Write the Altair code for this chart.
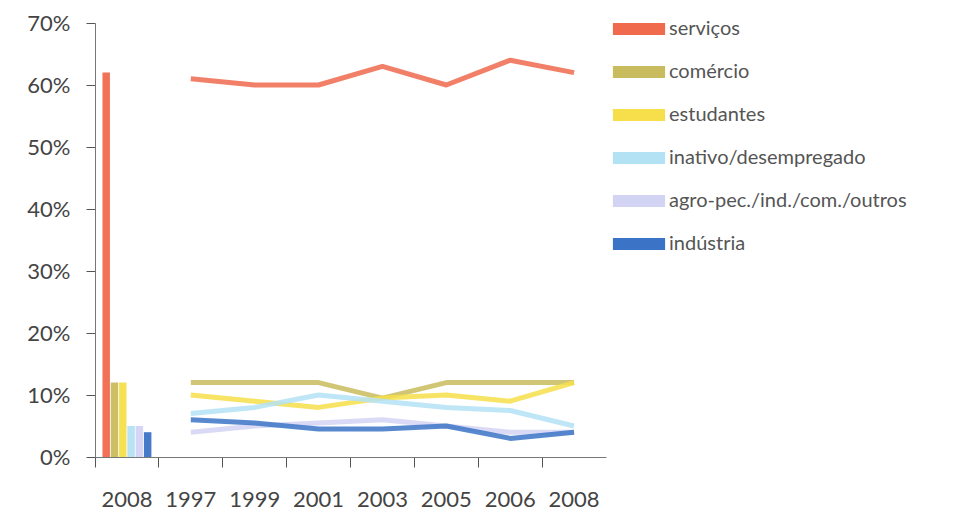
import altair as alt
import pandas as pd

categories = ["serviços", "comércio", "estudantes", "inativo/desempregado",
              "agro-pec./ind./com./outros", "indústria"]
colors = ["#f06a4e", "#c9bc5e", "#f6df4a", "#b4e2f5", "#d3d3f4", "#3b74c6"]

bar_group = "2008 "
bar_values = [62, 12, 12, 5, 5, 4]

years = ["1997", "1999", "2001", "2003", "2005", "2006", "2008"]
servicos = [61, 60, 60, 63, 60, 64, 62]
comercio = [12, 12, 12, 9.5, 12, 12, 12]
estudantes = [10, 9, 8, 9.5, 10, 9, 12]
inativo = [7, 8, 10, 9, 8, 7.5, 5]
agro = [4, 5, 5.5, 6, 5, 4, 4]
industria = [6, 5.5, 4.5, 4.5, 5, 3, 4]

x_order = [bar_group] + years
y_ticks = [0, 10, 20, 30, 40, 50, 60, 70]

bars = pd.DataFrame({"pos": [bar_group] * len(categories),
                     "cat": categories, "v": bar_values})
series = [servicos, comercio, estudantes, inativo, agro, industria]
lines = pd.DataFrame([
    {"pos": y, "cat": c, "v": v}
    for c, vals in zip(categories, series)
    for y, v in zip(years, vals)
])

FONT = "Lato"
xscale = alt.Scale(domain=x_order, paddingInner=0, paddingOuter=0)
yscale = alt.Scale(domain=[0, 70], nice=False)
cscale = alt.Scale(domain=categories, range=colors)

xaxis = alt.Axis(title=None, labelExpr="trim(datum.label)", labelFontSize=22,
                 labelFont=FONT, labelColor="#444", labelPadding=22,
                 bandPosition=0, tickSize=10, tickColor="#555", domainColor="#777",
                 labelAngle=0)
yaxis = alt.Axis(title=None, values=y_ticks, labelExpr="datum.value + '%'",
                 labelFontSize=22, labelFont=FONT, labelColor="#444",
                 grid=False, tickSize=9, tickColor="#555", domainColor="#777",
                 labelPadding=16, minExtent=87, maxExtent=87)

legend = alt.Legend(title=None, orient="none", legendX=526, legendY=-12,
                    symbolType="M-1.45,-0.34H1.45V0.34H-1.45Z", symbolSize=1296,
                    symbolStrokeWidth=0, symbolOpacity=1,
                    labelFont=FONT, labelFontSize=20, labelColor="#555",
                    labelOffset=12, rowPadding=15, labelLimit=400)

bar_layer = alt.Chart(bars).mark_bar(opacity=0.95).encode(
    x=alt.X("pos:N", sort=x_order, scale=xscale, axis=xaxis),
    xOffset=alt.XOffset("cat:N", sort=categories,
                        scale=alt.Scale(domain=categories, paddingInner=0.1,
                                        paddingOuter=0.9)),
    y=alt.Y("v:Q", scale=yscale, axis=yaxis),
    color=alt.Color("cat:N", scale=cscale, sort=categories, legend=legend),
)

line_layer = alt.Chart(lines).mark_line(strokeWidth=5, opacity=0.85,
                                        strokeJoin="round").encode(
    x=alt.X("pos:N", sort=x_order, scale=xscale, axis=xaxis),
    y=alt.Y("v:Q", scale=yscale, axis=yaxis),
    color=alt.Color("cat:N", scale=cscale, sort=categories, legend=legend),
    detail="cat:N",
)

chart = alt.layer(bar_layer, line_layer).properties(
    width=511, height=434, background="white",
    padding={"left": 0, "top": 3, "right": 0, "bottom": 0},
).configure_view(stroke=None)

chart.save("out.html", embed_options={"renderer": "svg", "actions": False})
